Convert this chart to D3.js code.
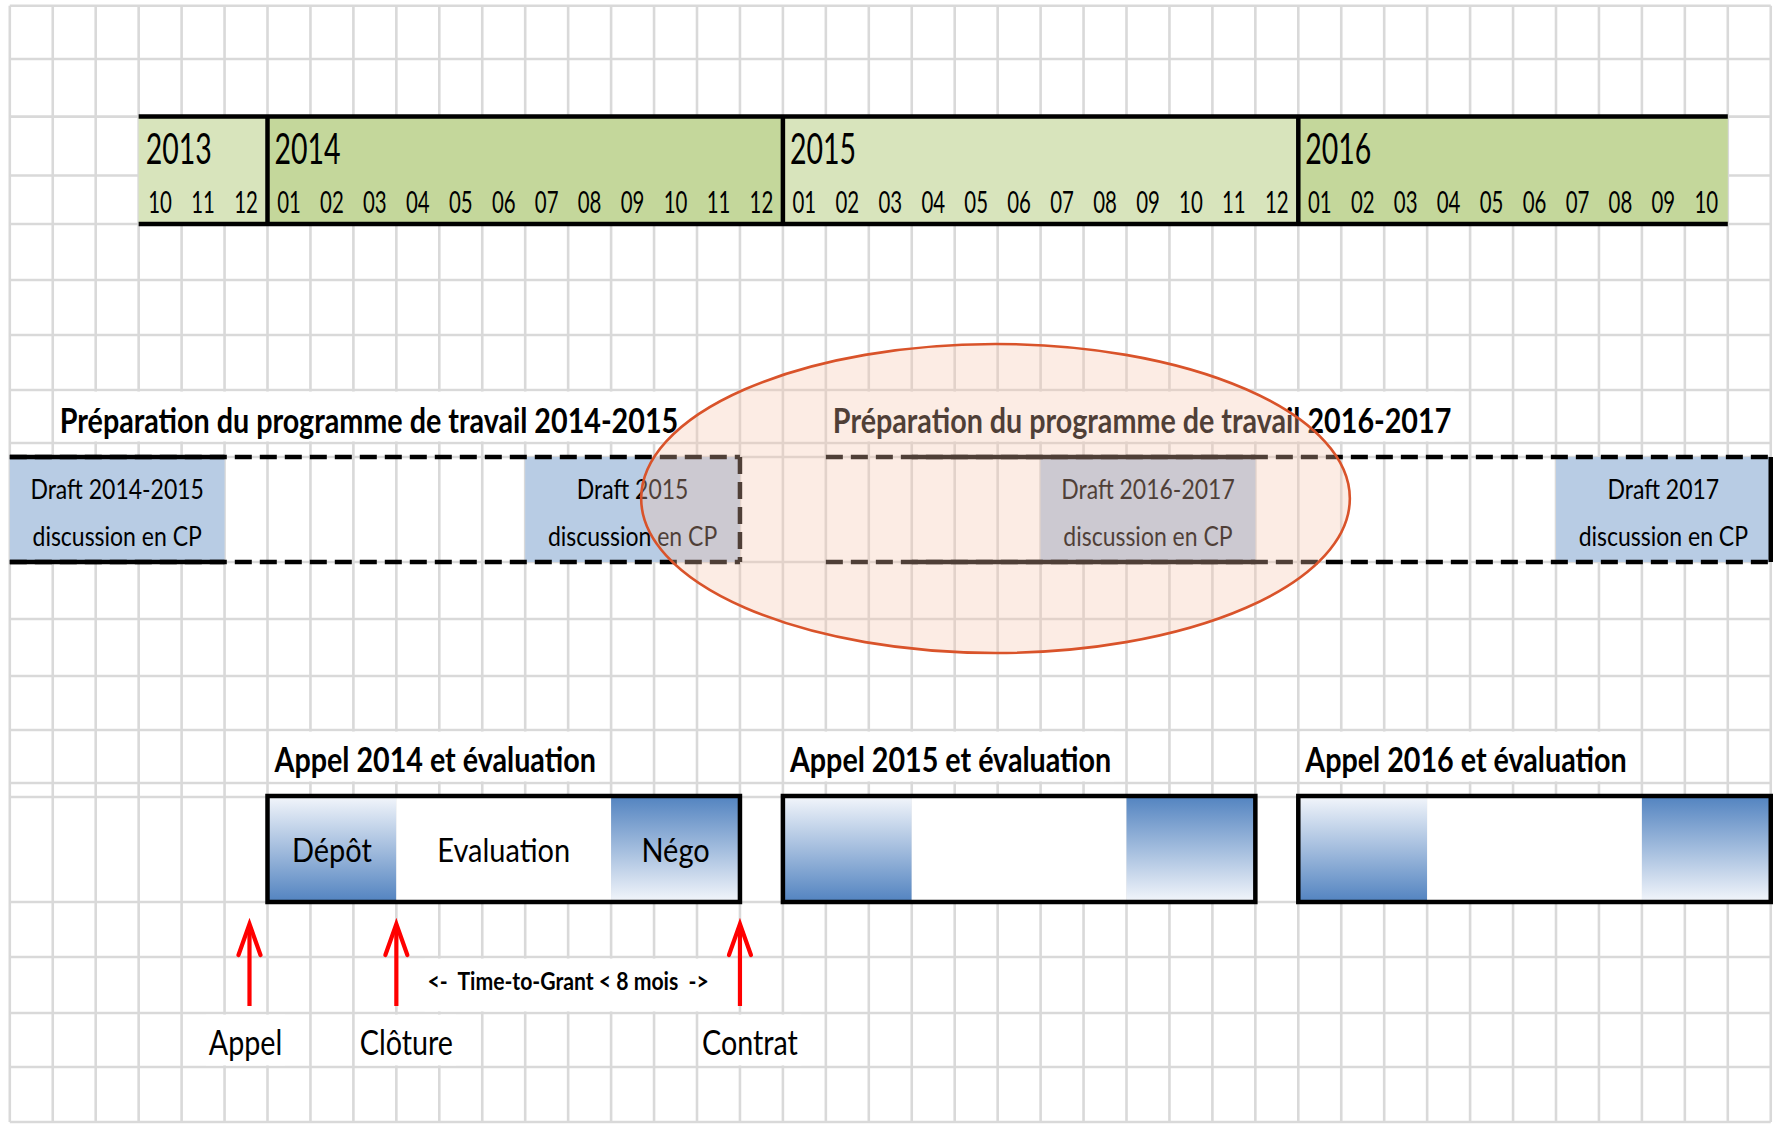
<!DOCTYPE html>
<html><head><meta charset="utf-8">
<script src="https://cdn.jsdelivr.net/npm/d3@7"></script>
<style>html,body{margin:0;padding:0;background:#fff;overflow:hidden}</style>
</head><body><svg id="chart" width="1775" height="1127"></svg>
<script>
// ---------------- DATA ----------------
// one grid column = one month; column 0 = July 2013
const gridOrigin = "2013-07";
const gridMonths = 41;

const years      = ["2013", "2014", "2015", "2016"];
const yearStarts = ["2013-10", "2014-01", "2015-01", "2016-01"];
const yearEnds   = ["2014-01", "2015-01", "2016-01", "2016-11"];
const monthTicks = ["10","11","12",
  "01","02","03","04","05","06","07","08","09","10","11","12",
  "01","02","03","04","05","06","07","08","09","10","11","12",
  "01","02","03","04","05","06","07","08","09","10"];

const prepTitles      = ["Préparation du programme de travail 2014-2015", "Préparation du programme de travail 2016-2017"];
const prepTitleCells  = ["2013-08", "2015-02"];

const draftLine1  = ["Draft 2014-2015", "Draft 2015", "Draft 2016-2017", "Draft 2017"];
const draftLine2  = ["discussion en CP", "discussion en CP", "discussion en CP", "discussion en CP"];
const draftStarts = ["2013-07", "2014-07", "2015-07", "2016-07"];
const draftMonths = [5, 5, 5, 5];

const bandStarts  = ["2013-07", "2015-02"];   // dashed frame segments
const bandEnds    = ["2014-12", "2016-12"];
const bandEndSolid = [false, true];            // right edge style
const solidStarts = ["2013-07", "2015-04"];    // parts of the frame drawn solid
const solidEnds   = ["2013-12", "2015-12"];

const highlightSpan = [14.7, 31.2];            // ellipse, in months since July 2013

const callTitles   = ["Appel 2014 et évaluation", "Appel 2015 et évaluation", "Appel 2016 et évaluation"];
const callStarts   = ["2014-01", "2015-01", "2016-01"];
const phaseNames   = ["Dépôt", "Evaluation", "Négo"];
const phaseMonths  = [3, 5, 3];
const phaseKinds   = ["up", "plain", "down"];

const milestoneNames = ["Appel", "Clôture", "Contrat"];
const milestoneDates = ["2013-12-19", "2014-04-01", "2014-12-01"];
const grantLabel = "<-  Time-to-Grant < 8 mois  ->";

// ---------------- LAYOUT ----------------
const L = {
  gridX0: 9.8, col: 42.95, gridTop: 5.7, gridBottom: 1122,
  rowLines: [5.7, 59, 116.6, 175.5, 224, 280, 335, 390, 443, 457, 562, 619, 676, 730, 783, 797, 902, 957, 1013, 1067, 1122],
  tlTop: 116.6, tlBottom: 224, yearBase: 163.5, monthBase: 213,
  prepBase: 433, prepRow: [390, 443],
  draftTop: 457, draftBottom: 562, draftBase1: 499, draftBase2: 546,
  ellTop: 344, ellBottom: 653,
  callBase: 771.5, callRow: [730, 783],
  boxTop: 796, boxBottom: 902, phaseBase: 862,
  arrowTip: 924, arrowEnd: 1006,
  grantBase: 989.5, grantRow: [957, 1013],
  msBase: 1055, msRow: [1013, 1067]
};
const FONT = "Lato, 'Open Sans', sans-serif";
const fYear  = {size: 28.5, sy: 1.48};
const fMonth = {size: 20.4, sy: 1.48};
const fTitle = {size: 28.7, weight: 700, sy: 1.2};
const fDraft = {size: 23, sy: 1.17};
const fPhase = {size: 29, sy: 1.12};
const fMs    = {size: 28.7, sy: 1.22};
const fGrant = {size: 21.2, weight: 700, sy: 1.15};

// ---------------- HELPERS ----------------
function daysIn(y, m) { return new Date(y, m, 0).getDate(); }
function mi(s) {
  const [y, m, d] = s.split("-").map(Number);
  const [oy, om] = gridOrigin.split("-").map(Number);
  return (y - oy) * 12 + (m - om) + (d ? (d - 1) / daysIn(y, m) : 0);
}
const x = d3.scaleLinear().domain([0, gridMonths]).range([L.gridX0, L.gridX0 + gridMonths * L.col]);

const svg = d3.select("#chart");
const gGrid = svg.append("g");
const gMask = svg.append("g");
const gMarks = svg.append("g");
const gText = svg.append("g");
const gOver = svg.append("g");
const gArrows = svg.append("g");

function addText(layer, px, py, str, st, anchor) {
  const wrap = layer.append("g");
  wrap.append("text")
    .attr("transform", `translate(${px},${py}) scale(1,${st.sy})`)
    .attr("text-anchor", anchor || "start")
    .attr("font-family", FONT)
    .attr("font-size", st.size)
    .attr("font-weight", st.weight || 400)
    .attr("fill", st.fill || "#000")
    .style("white-space", "pre")
    .text(str);
  return wrap;
}
function maskRow(wrap, row) {
  const bb = wrap.node().getBBox();
  gMask.append("rect").attr("x", bb.x - 3).attr("width", bb.width + 6)
    .attr("y", row[0] + 1.6).attr("height", row[1] - row[0] - 3.2).attr("fill", "#fff");
}

// ---------------- GRID ----------------
gGrid.selectAll("line.v").data(d3.range(gridMonths + 1)).join("line")
  .attr("x1", d => x(d)).attr("x2", d => x(d))
  .attr("y1", L.gridTop).attr("y2", L.gridBottom)
  .attr("stroke", "#d9d9d9").attr("stroke-width", 2.6);
gGrid.selectAll("line.h").data(L.rowLines).join("line")
  .attr("x1", x(0)).attr("x2", x(gridMonths))
  .attr("y1", d => d).attr("y2", d => d)
  .attr("stroke", "#d9d9d9").attr("stroke-width", 2.6);

// ---------------- TIMELINE ----------------
const yearFill = ["#d8e4bc", "#c4d79b", "#d8e4bc", "#c4d79b"];
years.forEach((yr, i) => {
  gMarks.append("rect")
    .attr("x", x(mi(yearStarts[i]))).attr("width", x(mi(yearEnds[i])) - x(mi(yearStarts[i])))
    .attr("y", L.tlTop).attr("height", L.tlBottom - L.tlTop).attr("fill", yearFill[i]);
  addText(gText, x(mi(yearStarts[i])) + 7, L.yearBase, yr, fYear);
});
const t0 = mi(yearStarts[0]), t1 = mi(yearEnds[yearEnds.length - 1]);
[L.tlTop, L.tlBottom].forEach(yy => gMarks.append("line")
  .attr("x1", x(t0)).attr("x2", x(t1)).attr("y1", yy).attr("y2", yy)
  .attr("stroke", "#000").attr("stroke-width", 4.5));
yearStarts.slice(1).forEach(s => gMarks.append("line")
  .attr("x1", x(mi(s))).attr("x2", x(mi(s))).attr("y1", L.tlTop).attr("y2", L.tlBottom)
  .attr("stroke", "#000").attr("stroke-width", 4.5));
monthTicks.forEach((m, i) => addText(gText, x(t0 + i + 0.5), L.monthBase, m, fMonth, "middle"));

// ---------------- PREPARATION ----------------
prepTitles.forEach((t, i) => {
  const w = addText(gText, x(mi(prepTitleCells[i])) + 7, L.prepBase, t, fTitle);
  maskRow(w, L.prepRow);
});
draftStarts.forEach((s, i) => {
  const a = x(mi(s)), b = x(mi(s) + draftMonths[i]);
  gMarks.append("rect").attr("x", a).attr("width", b - a)
    .attr("y", L.draftTop).attr("height", L.draftBottom - L.draftTop).attr("fill", "#b8cce4");
  addText(gText, (a + b) / 2, L.draftBase1, draftLine1[i], fDraft, "middle");
  addText(gText, (a + b) / 2, L.draftBase2, draftLine2[i], fDraft, "middle");
});
bandStarts.forEach((s, i) => {
  const a = x(mi(s)), b = x(mi(bandEnds[i]));
  [L.draftTop, L.draftBottom].forEach(yy => gMarks.append("line")
    .attr("x1", a).attr("x2", b).attr("y1", yy).attr("y2", yy)
    .attr("stroke", "#000").attr("stroke-width", 4.5).attr("stroke-dasharray", "17,8"));
  gMarks.append("line").attr("x1", b).attr("x2", b).attr("y1", L.draftTop).attr("y2", L.draftBottom)
    .attr("stroke", "#000").attr("stroke-width", 4.5)
    .attr("stroke-dasharray", bandEndSolid[i] ? null : "17,8");
});
solidStarts.forEach((s, i) => {
  const a = x(mi(s)), b = x(mi(solidEnds[i]));
  [L.draftTop, L.draftBottom].forEach(yy => gMarks.append("line")
    .attr("x1", a).attr("x2", b).attr("y1", yy).attr("y2", yy)
    .attr("stroke", "#000").attr("stroke-width", 4.5));
});

// ellipse highlight (drawn over the texts)
const ea = x(highlightSpan[0]), eb = x(highlightSpan[1]);
gOver.append("ellipse")
  .attr("cx", (ea + eb) / 2).attr("cy", (L.ellTop + L.ellBottom) / 2)
  .attr("rx", (eb - ea) / 2).attr("ry", (L.ellBottom - L.ellTop) / 2)
  .attr("fill", "#f7c4ac").attr("fill-opacity", 0.32)
  .attr("stroke", "#d9532a").attr("stroke-width", 2.6);

// ---------------- CALLS ----------------
const defs = svg.append("defs");
const gUp = defs.append("linearGradient").attr("id", "gUp").attr("x1", 0).attr("y1", 0).attr("x2", 0).attr("y2", 1);
gUp.append("stop").attr("offset", "0%").attr("stop-color", "#f3f6fb");
gUp.append("stop").attr("offset", "100%").attr("stop-color", "#5283c0");
const gDown = defs.append("linearGradient").attr("id", "gDown").attr("x1", 0).attr("y1", 0).attr("x2", 0).attr("y2", 1);
gDown.append("stop").attr("offset", "0%").attr("stop-color", "#5283c0");
gDown.append("stop").attr("offset", "100%").attr("stop-color", "#f3f6fb");

callStarts.forEach((s, ci) => {
  let m = mi(s);
  const start = m;
  const w = addText(gText, x(m) + 7, L.callBase, callTitles[ci], fTitle);
  maskRow(w, L.callRow);
  phaseMonths.forEach((pm, pi) => {
    const a = x(m), b = x(m + pm);
    gMarks.append("rect").attr("x", a).attr("width", b - a)
      .attr("y", L.boxTop).attr("height", L.boxBottom - L.boxTop)
      .attr("fill", phaseKinds[pi] === "up" ? "url(#gUp)" : phaseKinds[pi] === "down" ? "url(#gDown)" : "#fff");
    if (ci === 0) addText(gText, (a + b) / 2, L.phaseBase, phaseNames[pi], fPhase, "middle");
    m += pm;
  });
  gMarks.append("rect").attr("x", x(start)).attr("width", x(m) - x(start))
    .attr("y", L.boxTop).attr("height", L.boxBottom - L.boxTop)
    .attr("fill", "none").attr("stroke", "#000").attr("stroke-width", 4.5);
});

// ---------------- MILESTONES ----------------
milestoneDates.forEach((d, i) => {
  const px = x(mi(d));
  gArrows.append("line").attr("x1", px).attr("x2", px).attr("y1", L.arrowTip + 2).attr("y2", L.arrowEnd)
    .attr("stroke", "#ff0000").attr("stroke-width", 4.2);
  gArrows.append("path")
    .attr("d", `M${px - 11},${L.arrowTip + 31} L${px},${L.arrowTip} L${px + 11},${L.arrowTip + 31}`)
    .attr("fill", "none").attr("stroke", "#ff0000").attr("stroke-width", 4.2)
    .attr("stroke-linejoin", "miter").attr("stroke-linecap", "round");
  const w = addText(gText, px + (i === 0 ? -4 : 10), L.msBase, milestoneNames[i], fMs, "middle");
  maskRow(w, L.msRow);
});
const gm = (mi(milestoneDates[1]) + mi(milestoneDates[2])) / 2;
const gw = addText(gText, x(gm), L.grantBase, grantLabel, fGrant, "middle");
maskRow(gw, L.grantRow);
</script></body></html>
